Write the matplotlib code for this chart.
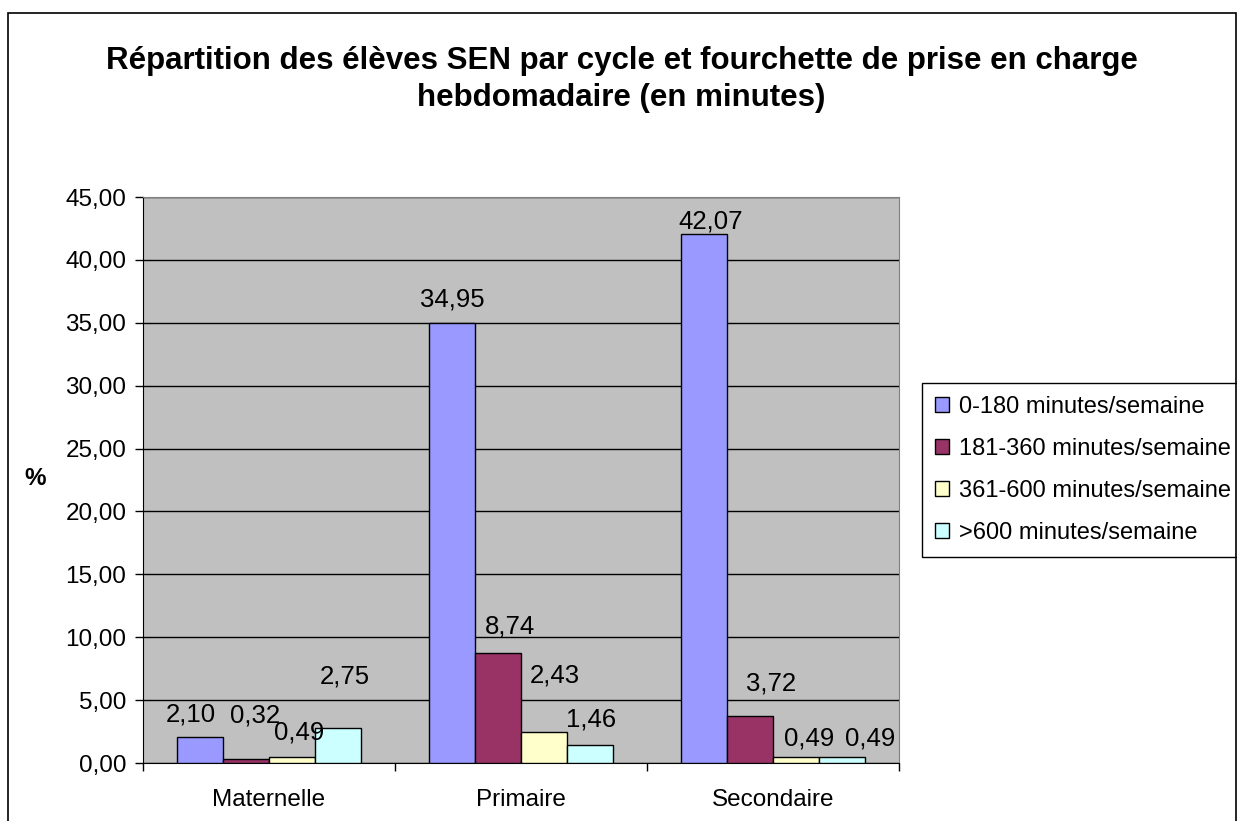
import numpy as np
import matplotlib.pyplot as plt
from matplotlib.patches import Rectangle

plt.rcParams['font.family'] = ['Liberation Sans', 'DejaVu Sans']

# données
cycles = ['Maternelle', 'Primaire', 'Secondaire']
series = ['0-180 minutes/semaine', '181-360 minutes/semaine',
          '361-600 minutes/semaine', '>600 minutes/semaine']
val_0_180 = [2.10, 34.95, 42.07]
val_181_360 = [0.32, 8.74, 3.72]
val_361_600 = [0.49, 2.43, 0.49]
val_600 = [2.75, 1.46, 0.49]
values = [val_0_180, val_181_360, val_361_600, val_600]
colors = ['#9999FF', '#993366', '#FFFFCC', '#CCFFFF']

# décalages des étiquettes (déplacées à la main dans l'original)
# dx en largeur de barre, dy (ligne de base) en unités de données ; [série][cycle]
lab_dx = [[-0.20, 0.00, 0.13],
          [0.20, 0.26, 0.46],
          [0.15, 0.24, 0.28],
          [0.15, 0.04, 0.63]]
lab_dy = [[1.24, 1.38, 0.46],
          [2.94, 1.59, 2.08],
          [1.42, 4.01, 0.94],
          [3.61, 1.48, 0.94]]

fig = plt.figure(figsize=(12.43, 8.21), dpi=100)
ax = fig.add_axes([0.1150, 0.0706, 0.6082, 0.6894])
ax.set_facecolor('#C0C0C0')

x = np.arange(len(cycles))
w = 1 / 5.5
for i, (vals, col) in enumerate(zip(values, colors)):
    pos = x + (i - 1.5) * w
    ax.bar(pos, vals, width=w, color=col, edgecolor='black', linewidth=1,
           label=series[i], zorder=3)
    for j, v in enumerate(vals):
        ax.text(pos[j] + lab_dx[i][j] * w, v + lab_dy[i][j],
                f'{v:.2f}'.replace('.', ','), ha='center', va='baseline',
                fontsize=18.5, zorder=4)

ax.set_xlim(-0.5, 2.5)
ax.set_ylim(0, 45)
yt = np.arange(0, 46, 5)
ax.set_yticks(yt)
ax.set_yticklabels([f'{t:.2f}'.replace('.', ',') for t in yt], fontsize=17.5)
ax.yaxis.grid(True, color='black', linewidth=1)
ax.set_axisbelow(True)

ax.set_xticks(x)
ax.set_xticklabels(cycles, fontsize=17.5)
ax.tick_params(axis='x', length=0, pad=19)
ax.set_xticks(np.arange(-0.5, 3, 1), minor=True)
ax.tick_params(axis='x', which='minor', length=6, width=1, color='black')
ax.tick_params(axis='y', length=6, width=1, pad=6)

for s in ['top', 'right']:
    ax.spines[s].set_color('#808080')
for s in ['left', 'bottom']:
    ax.spines[s].set_color('black')

fig.text(35 / 1243, 1 - 478 / 821, '%', fontsize=17.5, fontweight='bold',
         ha='center', va='center')

fig.text(0.5, 0.903, 'Répartition des élèves SEN par cycle et fourchette de prise en charge\n'
         'hebdomadaire (en minutes)', ha='center', va='center',
         fontsize=22.5, fontweight='bold', linespacing=1.3)

leg = fig.legend(loc='upper left', bbox_to_anchor=(922 / 1243, 1 - 383 / 821),
                 fontsize=17, frameon=True, fancybox=False, edgecolor='black',
                 handlelength=0.6, handleheight=0.6, handletextpad=0.4,
                 labelspacing=0.85, borderpad=0.55, borderaxespad=0)
leg.get_frame().set_linewidth(1)
leg.get_frame().set_alpha(1)

# bord droit : masque au-delà du cadre, puis cadre du graphique
fig.patches.append(Rectangle((1237 / 1243, 0), 0.01, 1, transform=fig.transFigure,
                             facecolor='white', edgecolor='none', zorder=10))
fig.patches.append(Rectangle((8 / 1243, -0.02), 1228 / 1243, 1.02 - 13 / 821,
                             transform=fig.transFigure, fill=False,
                             edgecolor='black', linewidth=1.2, zorder=11))

fig.savefig('out.png', dpi=100)
